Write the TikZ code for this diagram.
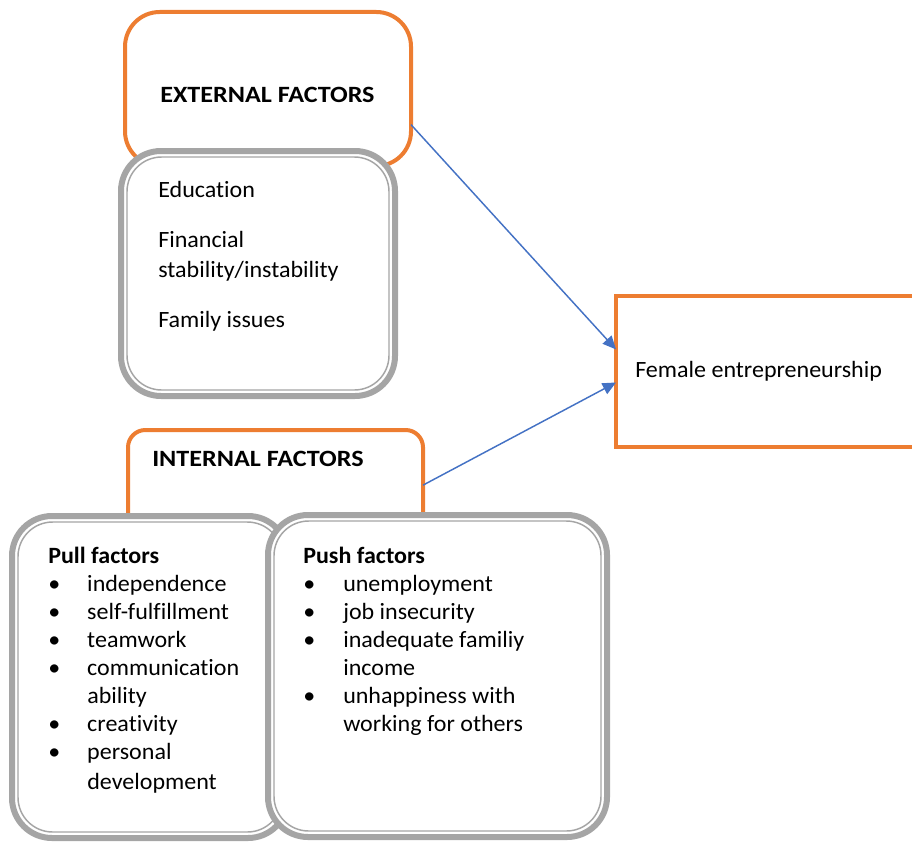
\documentclass[tikz,border=0pt]{standalone}
\usepackage{fontspec}
\setmainfont{Carlito}[Ligatures=NoCommon, FakeStretch=1.03]
\usepackage{xcolor}
\usetikzlibrary{arrows.meta}
\definecolor{boxorange}{HTML}{ED7D31}
\definecolor{boxgrey}{HTML}{A5A5A5}
\definecolor{arrowblue}{HTML}{4472C4}
\tikzset{
  orangebox/.style={draw=boxorange, line width=3pt, fill=white, outer sep=0pt, inner sep=0pt},
  greybox/.style={draw=boxgrey, line width=4.5pt, fill=white, outer sep=0pt, inner sep=0pt, rounded corners=30pt},
  innerline/.style={draw=boxgrey, line width=1.1pt, rounded corners=26pt},
  boxtext/.style={anchor=base west, inner sep=0pt, font=\fontsize{17.5}{21}\selectfont},
  titletext/.style={boxtext, font=\fontsize{17.5}{21}\selectfont\bfseries\addfontfeatures{FakeStretch=1.12}},
  factorarrow/.style={draw=arrowblue, line width=1.1pt, -{Triangle[length=10pt,width=9pt]}}
}

\begin{document}
\begin{tikzpicture}[x=0.75pt, y=-0.75pt]
        \clip (0,0) rectangle (912,842);

        % external factors
        \node[orangebox, rounded corners=26pt, minimum width=214.5pt, minimum height=115.5pt] (ext) at (268,89) {};
        \node[greybox, minimum width=205.5pt, minimum height=183.75pt] (edu) at (258,273.5) {};
        \draw[innerline] ([xshift=4.5pt,yshift=4.5pt]edu.south west) rectangle ([xshift=-4.5pt,yshift=-4.5pt]edu.north east);

        % outcome
        \node[orangebox, minimum width=235.5pt, minimum height=113.25pt] (fem) at (773,371.5) {};

        % internal factors
        \node[orangebox, rounded corners=13pt, minimum width=221.25pt, minimum height=75pt] (int) at (275.5,480) {};
        \node[greybox, minimum width=207pt, minimum height=241.5pt] (pull) at (150,677) {};
        \draw[innerline] ([xshift=4.5pt,yshift=4.5pt]pull.south west) rectangle ([xshift=-4.5pt,yshift=-4.5pt]pull.north east);
        \node[greybox, minimum width=254.25pt, minimum height=241.5pt] (push) at (437.5,676) {};
        \draw[innerline] ([xshift=4.5pt,yshift=4.5pt]push.south west) rectangle ([xshift=-4.5pt,yshift=-4.5pt]push.north east);

        \draw[factorarrow] (ext.-14) -- (fem.172);
        \draw[factorarrow] (int.-2) -- (fem.184);

        % texts
        \node[titletext] (exttitle) at (160,102) {EXTERNAL FACTORS};
        \node[boxtext, font=\fontsize{17.5}{22.5}\selectfont] (edutext) at (158,197) {\begin{tabular}[t]{@{}l@{}}
          Education\\[15pt]
          Financial\\
          stability/instability\\[15pt]
          Family issues
        \end{tabular}};
        \node[boxtext] (femtext) at (635,377) {Female entrepreneurship};
        \node[titletext] (inttitle) at (152,466) {INTERNAL FACTORS};
        \node[boxtext] (pulltext) at (48,563) {\begin{tabular}[t]{@{}p{29.25pt}@{}l@{}}
          \multicolumn{2}{@{}l@{}}{\bfseries Pull factors}\\
          \textbullet & independence\\
          \textbullet & self-fulfillment\\
          \textbullet & teamwork\\
          \textbullet & communication\\
                      & ability\\
          \textbullet & creativity\\
          \textbullet & personal\\[1.5pt]
                      & development
        \end{tabular}};
        \node[boxtext] (pushtext) at (303,563) {\begin{tabular}[t]{@{}p{30pt}@{}l@{}}
          \multicolumn{2}{@{}l@{}}{\bfseries Push factors}\\
          \textbullet & unemployment\\
          \textbullet & job insecurity\\
          \textbullet & inadequate familiy\\
                      & income\\
          \textbullet & unhappiness with\\
                      & working for others
        \end{tabular}};
    \end{tikzpicture}
\end{document}
